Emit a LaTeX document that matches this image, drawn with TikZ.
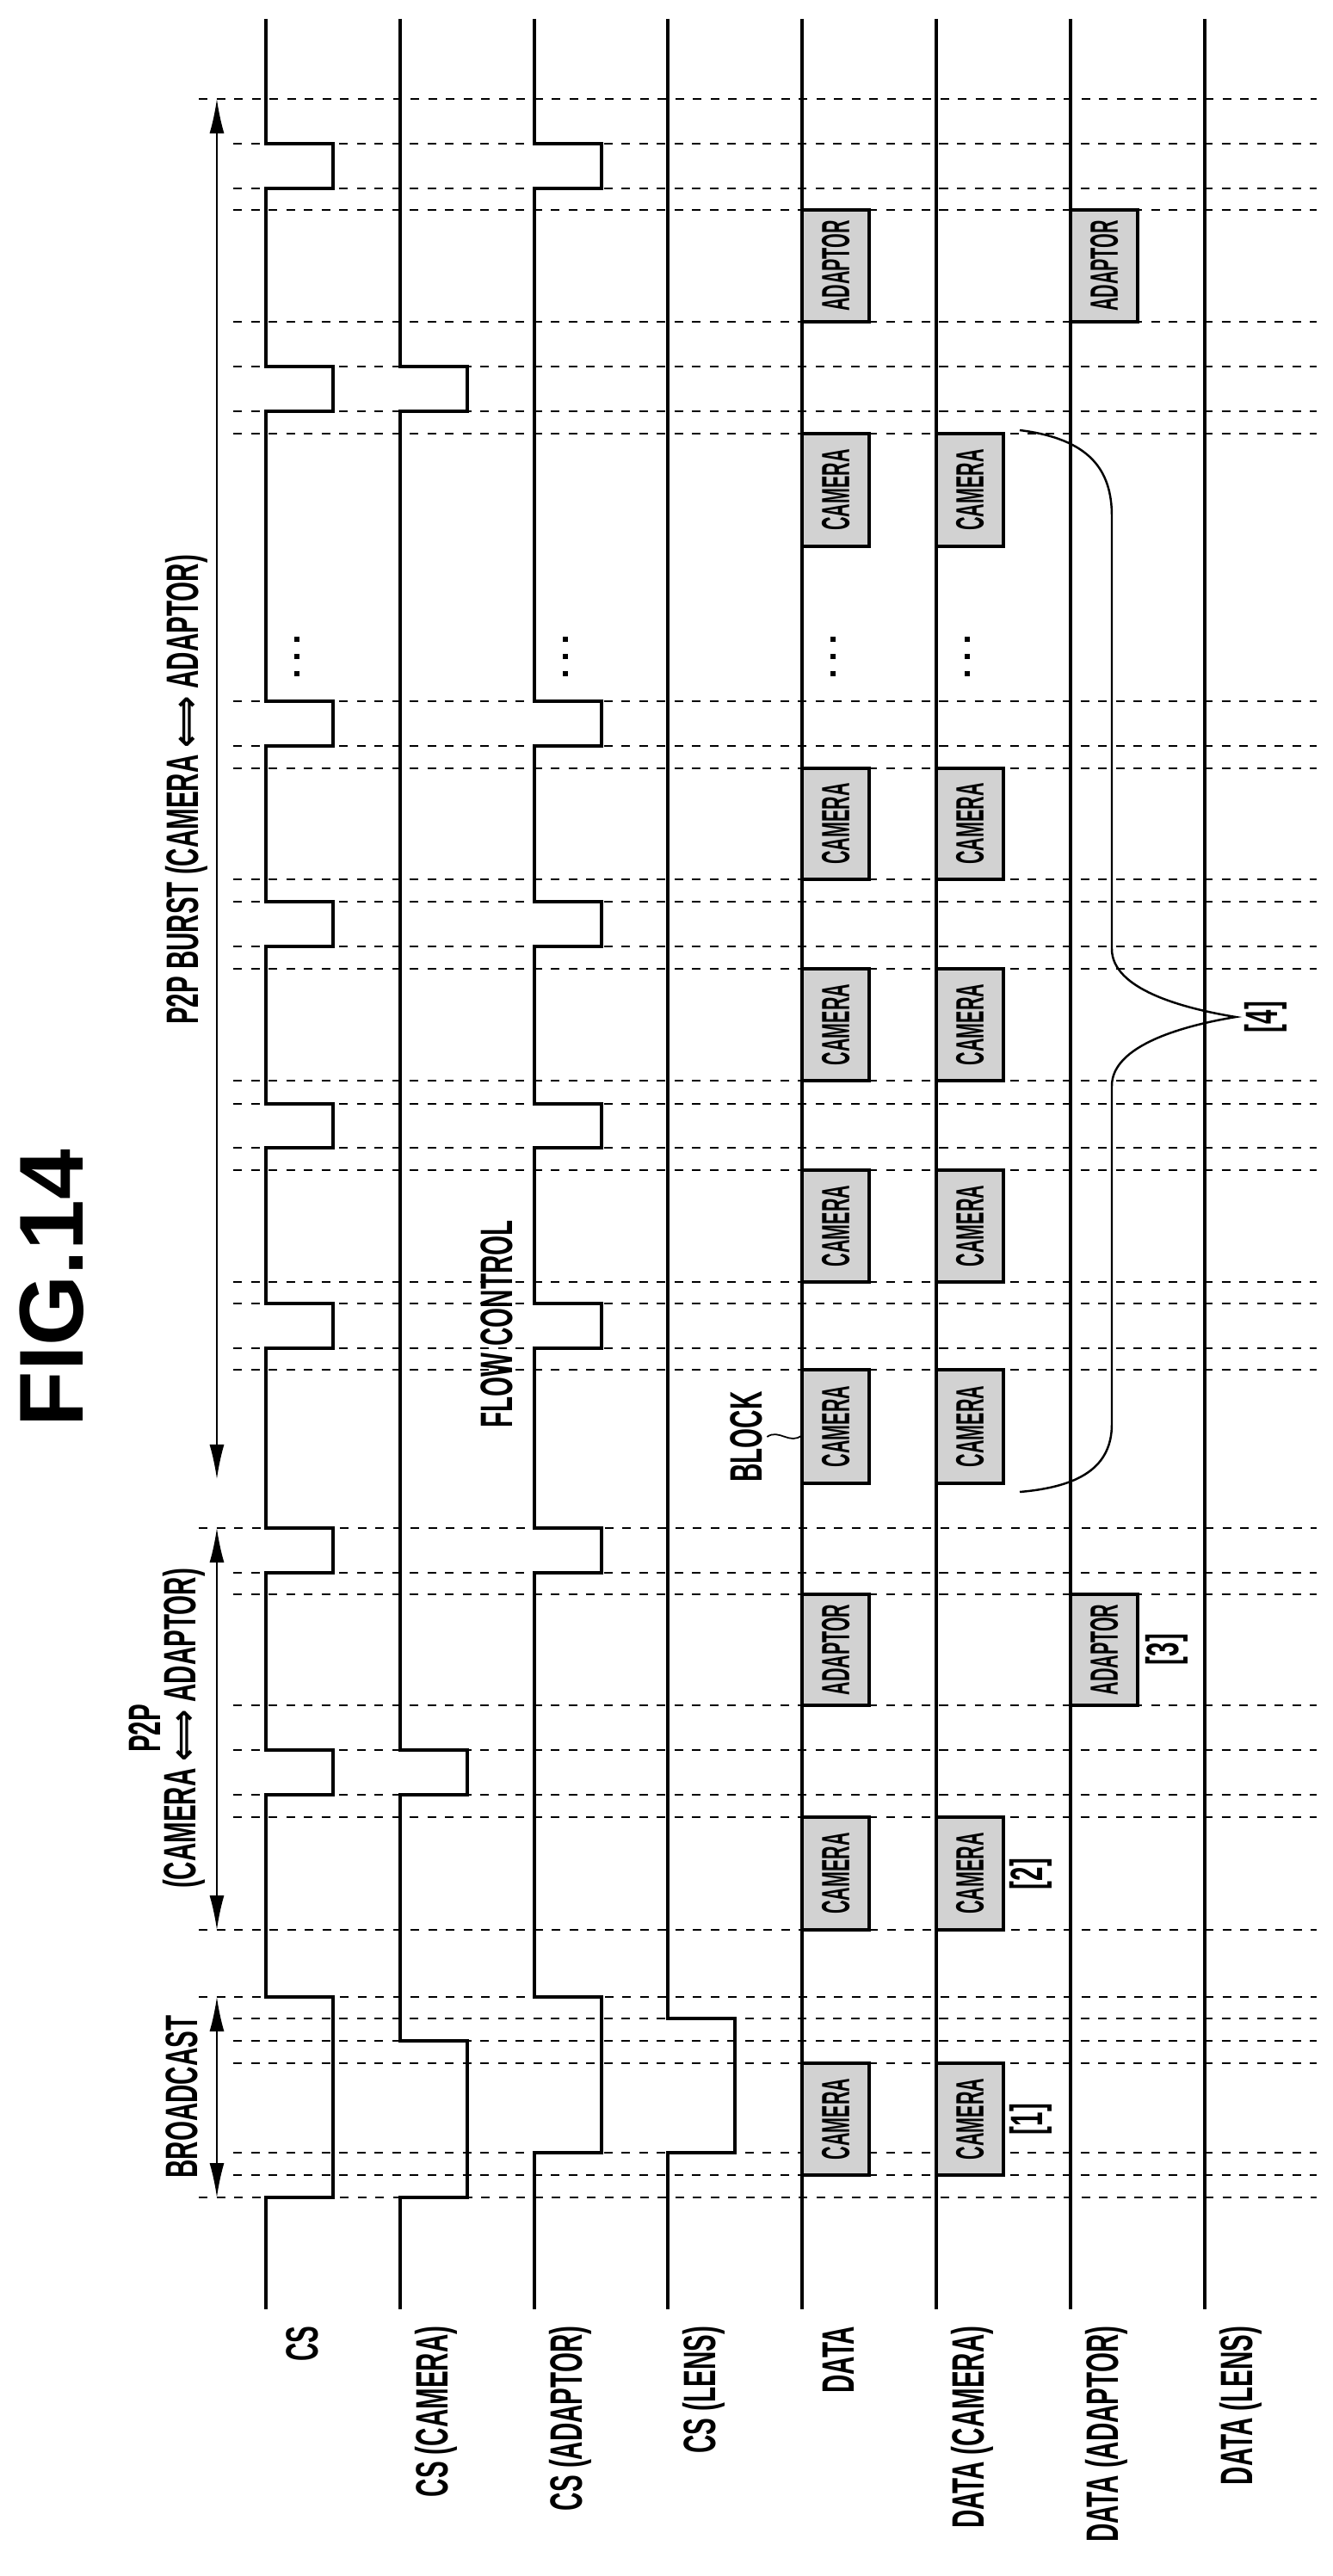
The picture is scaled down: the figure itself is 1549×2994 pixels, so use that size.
\documentclass[tikz,border=0pt]{standalone}
\usepackage{fontspec}
\setmainfont{Liberation Sans}
\newfontfamily\nar[FakeStretch=0.56]{Liberation Sans}
\newfontfamily\narbox[FakeStretch=0.47]{Liberation Sans}
\newfontfamily\symf{DejaVu Sans}
\usetikzlibrary{arrows.meta}
\begin{document}
\begin{tikzpicture}[x=0.01cm,y=-0.01cm,
  sig/.style={line width=0.9pt},
  dsh/.style={line width=0.6pt,dash pattern=on 0.1cm off 0.105cm},
  lbl/.style={rotate=90,font=\nar\bfseries\fontsize{15}{16}\selectfont,inner sep=0pt},
  blk/.style={draw,line width=0.9pt,fill=gray!35,minimum height=0.78cm,inner sep=0pt,rotate=90,font=\narbox\bfseries\fontsize{13}{14}\selectfont},
  dar/.style={line width=0.5pt,{Latex[length=0.4cm,width=0.17cm]}-{Latex[length=0.4cm,width=0.17cm]}}]
\useasboundingbox (0,0) rectangle (1549,2994);
% dashed timing lines
\foreach \y in {115,1776,2243,2321,2554} \draw[dsh] (231,\y) -- (1530,\y);
\foreach \y in {167,219,244,374,426,478,504,815,867,893,1022,1048,1100,1126,1256,1283,1334,1360,1490,1515,1567,1592,1828,1853,1982,2034,2086,2112,2346,2372,2398,2502,2528}
  \draw[dsh] (271,\y) -- (1530,\y);
% signal lines
\draw[sig] (309,22) \foreach \a/\b in {167/219,426/478,815/867,1048/1100,1283/1334,1515/1567,1776/1828,2034/2086,2321/2554}{ -- (309,\a) -- (387,\a) -- (387,\b) -- (309,\b)} -- (309,2684);
\draw[sig] (465,22) \foreach \a/\b in {426/478,2034/2086,2372/2554}{ -- (465,\a) -- (543,\a) -- (543,\b) -- (465,\b)} -- (465,2684);
\draw[sig] (621,22) \foreach \a/\b in {167/219,815/867,1048/1100,1283/1334,1515/1567,1776/1828,2321/2502}{ -- (621,\a) -- (699,\a) -- (699,\b) -- (621,\b)} -- (621,2684);
\draw[sig] (776,22) -- (776,2346) -- (854,2346) -- (854,2502) -- (776,2502) -- (776,2684);
\foreach \x in {932,1088,1244,1400} \draw[sig] (\x,22) -- (\x,2684);
% data blocks
\foreach \x/\a/\b/\t in {932/244/374/ADAPTOR,1244/244/374/ADAPTOR,
  932/504/635/CAMERA,1088/504/635/CAMERA,932/893/1022/CAMERA,1088/893/1022/CAMERA,
  932/1126/1256/CAMERA,1088/1126/1256/CAMERA,932/1360/1490/CAMERA,1088/1360/1490/CAMERA,
  932/1592/1724/CAMERA,1088/1592/1724/CAMERA,932/1853/1982/ADAPTOR,1244/1853/1982/ADAPTOR,
  932/2112/2243/CAMERA,1088/2112/2243/CAMERA,932/2398/2528/CAMERA,1088/2398/2528/CAMERA}
  \node[blk,minimum width={(\b-\a)*0.01cm}] (b\x-\a) at (\x+39,{(\a+\b)/2}) {\t};
% dots
\foreach \x in {345,657,968,1124} \foreach \y in {743,763,783} \fill (\x-3,\y-3) rectangle (\x+3,\y+3);
% labels
\foreach \x/\t [count=\i] in {309/CS,465/CS (CAMERA),621/CS (ADAPTOR),776/CS (LENS),932/DATA,1088/DATA (CAMERA),1244/DATA (ADAPTOR),1400/DATA (LENS)}
  \node[lbl,anchor=east] (L\i) at (\x+42,2703) {\t};
\node[lbl] (n1) at (1198,2463) {[1]};
\node[lbl] (n2) at (1198,2178) {[2]};
\node[lbl] (n3) at (1356,1917) {[3]};
\node[lbl] (n4) at (1471,1182) {[4]};
% title
\node[rotate=90,font=\bfseries\fontsize{30}{32}\selectfont,inner sep=0pt] (title) at (60,1497) {FIG.14};
% phase labels and arrows
\node[lbl] (bc) at (211,2437) {BROADCAST};
\node[lbl] (p2pa) at (168,2009) {P2P};
\node[lbl] (p2pb) at (214,2009) {(CAMERA {\symf\fontsize{12}{14}\selectfont ⟺} ADAPTOR)};
\node[lbl] (burst) at (217,918) {P2P BURST (CAMERA {\symf\fontsize{12}{14}\selectfont ⟺} ADAPTOR)};
\node[lbl] (fc) at (577,1539) {FLOW CONTROL};
\node[lbl] (block) at (867,1670) {BLOCK};
\coordinate (a1) at (252,115); \coordinate (a2) at (252,1719);
\coordinate (a3) at (252,1776); \coordinate (a4) at (252,2243);
\coordinate (a5) at (252,2321); \coordinate (a6) at (252,2554);
\draw[dar] (a1) -- (a2);
\draw[dar] (a3) -- (a4);
\draw[dar] (a5) -- (a6);
\coordinate (bk) at (932,1668);
\draw[line width=0.5pt] ([xshift=0.05cm]block.south) .. controls (905,1660) and (918,1680) .. (bk);
% brace [4]
\draw[line width=0.7pt] (1185,500) .. controls (1265,510) and (1292,545) .. (1292,600) -- (1292,1103)
  .. controls (1292,1150) and (1375,1172) .. (1436,1182)
  .. controls (1375,1192) and (1292,1215) .. (1292,1262) -- (1292,1655)
  .. controls (1292,1705) and (1255,1728) .. (1185,1734);
\end{tikzpicture}
\end{document}
